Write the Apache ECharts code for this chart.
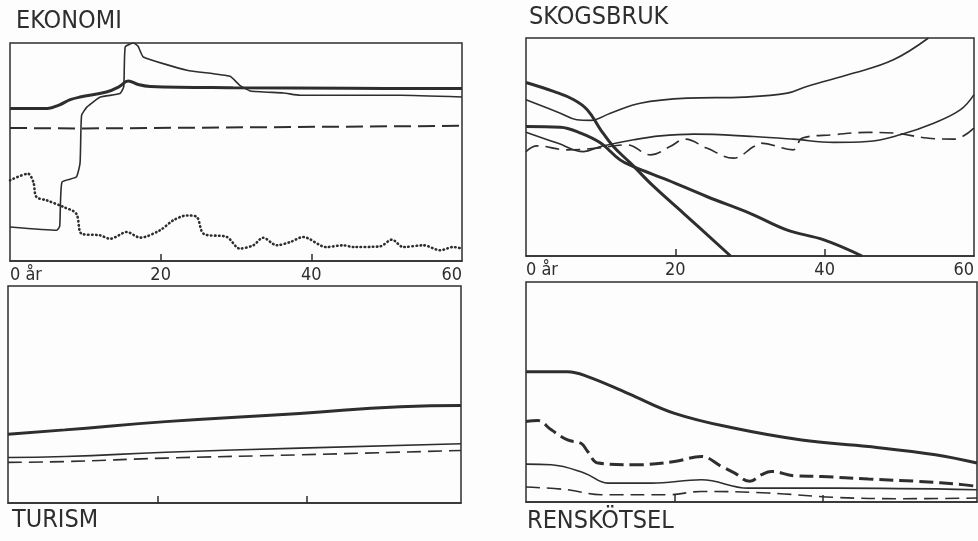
<!DOCTYPE html>
<html>
<head>
<meta charset="utf-8">
<script src="https://cdn.jsdelivr.net/npm/echarts@6/dist/echarts.min.js"></script>
<style>
html, body { margin: 0; padding: 0; background: #fdfdfd; }
#main { width: 978px; height: 541px; }
</style>
</head>
<body>
<div id="main"></div>
<script>
// x = år, y = relativ nivå (0-100)
const xTickLabels = [0, 20, 40, 60];
const xTicks = [20, 40];

// EKONOMI
const ekoThick = [[0, 69.9], [5, 70], [6.5, 71.5], [8, 74], [9.3, 75.2], [12.8, 77.5], [14.5, 80], [15.7, 82.6], [17, 81], [18.6, 80.1], [29.6, 79.5], [45, 79.2], [60, 79.1]];
const ekoThin = [[0, 15.6], [6.2, 14.1], [6.6, 16], [6.9, 36.2], [8.8, 38.5], [9.3, 45], [9.5, 66.8], [10.2, 70.6], [12, 75.2], [14.6, 76.8], [15.1, 80], [15.3, 98.2], [16.4, 100], [17, 98.5], [17.7, 93.6], [23.5, 87.5], [29.2, 84.7], [30.5, 80.6], [31.9, 78], [36.3, 77.1], [38.5, 76], [51.8, 76], [60, 75.2]];
const ekoDash = [[0, 61], [10, 60.8], [35, 61.4], [60, 62]];
const ekoDot = [[0, 37], [2.4, 40], [3.1, 36.2], [3.5, 29.4], [4.9, 27.8], [7.1, 24.8], [8.8, 21.7], [9.5, 12.5], [11.9, 11.8], [13.3, 10.2], [15.5, 13.3], [17.3, 10.7], [19.9, 14.1], [21.7, 18.7], [23.5, 20.9], [24.8, 20.2], [25.7, 12.5], [28.8, 11], [30.5, 5.7], [32.3, 7.2], [33.6, 10.7], [35.4, 7.2], [37.2, 8.7], [38.9, 11], [42, 6.4], [44.2, 7.2], [45.6, 6.4], [49.1, 6.7], [50.7, 9.8], [52.2, 6.4], [54.9, 7.2], [57.1, 4.9], [58.8, 6.4], [60, 5.7]];

// SKOGSBRUK
const skogRise = [[0, 71.7], [4.6, 65.5], [6.8, 62.5], [8.6, 62.2], [11.3, 65.5], [15.3, 70.1], [21.6, 72.4], [29.2, 72.9], [35, 74.7], [37.6, 77.8], [43.9, 83.9], [49.2, 90], [53.9, 100]];
const skogFallFast = [[0, 79.6], [3.7, 75.5], [6.4, 71.7], [8.2, 67.1], [10, 57.9], [11.7, 50.2], [14, 42.6], [17.1, 31.9], [21.1, 19.6], [27.4, 0]];
const skogFallSlow = [[0, 59.4], [4.6, 59.1], [7.3, 56.4], [10, 51.8], [12.6, 44.1], [14.4, 41], [18.9, 34.9], [24.2, 27.3], [30, 19.6], [35, 11.9], [39.9, 7.4], [45, 0]];
const skogThin = [[0, 56.8], [4.2, 51.8], [7.7, 47.9], [10, 50.2], [14.4, 53.3], [18, 55.1], [22.5, 55.9], [30.5, 54.8], [35.8, 53.6], [41.2, 52.1], [45.7, 52.5], [50.1, 55.6], [54.6, 60.9], [58.2, 67.1], [60, 74]];
const skogDash = [[0, 47.9], [1.5, 50.5], [5.5, 48.7], [9.5, 49.5], [13.5, 51], [16.7, 46.4], [19.3, 50.2], [21.3, 53.6], [24.2, 49.5], [27.8, 44.9], [30.5, 50.2], [31.4, 51.8], [35.8, 48.7], [37, 54.1], [41.2, 55.6], [45.7, 56.7], [49.2, 56.4], [53.7, 54.1], [57.3, 53.6], [60, 58.7]];

// TURISM
const turThick = [[0, 31.7], [7.6, 33.7], [21.1, 37.5], [39, 41.3], [52.5, 44.4], [60.6, 44.9]];
const turThin = [[0, 21], [7.6, 21.4], [21.1, 23.4], [39, 25.3], [60.6, 27.3]];
const turDash = [[0, 18.7], [7.6, 19.1], [21.1, 20.7], [39, 22.2], [60.6, 24.2]];

// RENSKÖTSEL
const renThick = [[0, 59.2], [5.6, 59.2], [8.3, 57], [13.7, 49.4], [20, 40.3], [28.1, 33.5], [37.1, 28.2], [46.1, 25.2], [55.1, 21.5], [60.7, 17.7]];
const renThickDash = [[0, 36.6], [1.6, 37], [3.4, 32.8], [5.6, 28.2], [7.4, 26.7], [8.3, 23], [9.7, 17.7], [14.6, 16.9], [20, 18.4], [23.6, 20.7], [26.3, 16.2], [28.1, 13.1], [30.1, 9.4], [31.7, 12.4], [33, 13.9], [36.2, 11.9], [39.8, 11.6], [46.1, 10.4], [52.8, 9.4], [58.7, 7.9], [60.7, 7.1]];
const renThin = [[0, 17.2], [3.4, 16.9], [7.9, 13.1], [11, 8.6], [16.9, 8.6], [23.6, 10.1], [29.9, 6.3], [41.6, 6.3], [60.7, 5.6]];
const renDash = [[0, 6.8], [5.6, 5.6], [10.1, 3.3], [19.1, 3.3], [23.6, 4.8], [32.6, 4.1], [41.6, 2.1], [50.6, 1.5], [60.7, 1.8]];

const ink = '#2e2e2e';
const font = 'DejaVu Sans Condensed';

let chart = echarts.init(document.getElementById('main'));

let makeX = (idx, max, labels) => ({
	type: 'value',
	gridIndex: idx,
	min: 0,
	max: max,
	splitLine: { show: false },
	axisLine: { show: true, lineStyle: { color: ink, width: 1.5 } },
	axisTick: { show: true, inside: true, length: 7, customValues: xTicks, lineStyle: { color: ink, width: 1.5 } },
	axisLabel: {
		show: labels,
		customValues: xTickLabels,
		alignMinLabel: 'left',
		alignMaxLabel: 'right',
		margin: 5,
		color: ink,
		fontFamily: font,
		fontSize: 18,
		formatter: v => v === 0 ? '0 år' : String(v)
	}
});
let makeY = idx => ({
	type: 'value', gridIndex: idx, min: 0, max: 100,
	show: false, splitLine: { show: false }
});
let line = (idx, data, width, type, smooth) => ({
	type: 'line',
	xAxisIndex: idx,
	yAxisIndex: idx,
	data: data,
	symbol: 'none',
	smooth: smooth,
	silent: true,
	lineStyle: { color: ink, width: width, type: type, cap: 'butt' }
});
let dots = [0.5, 3.5];

let option = {
	backgroundColor: '#fdfdfd',
	animation: false,
	title: [
		{ text: 'EKONOMI', left: 16, top: 9 },
		{ text: 'SKOGSBRUK', left: 529, top: 5 },
		{ text: 'TURISM', left: 12, top: 508 },
		{ text: 'RENSKÖTSEL', left: 527, top: 509 }
	].map(t => Object.assign(t, {
		padding: 0,
		textStyle: { fontFamily: font, fontSize: 25, fontWeight: 'normal', color: ink }
	})),
	grid: [
		{ left: 10, top: 43, width: 452, height: 218 },
		{ left: 526, top: 38, width: 448, height: 218 },
		{ left: 8, top: 286, width: 453, height: 217 },
		{ left: 526, top: 282, width: 451, height: 220 }
	].map(g => Object.assign(g, { show: true, borderColor: ink, borderWidth: 1.5, containLabel: false })),
	xAxis: [makeX(0, 60, true), makeX(1, 60, true), makeX(2, 60.6, false), makeX(3, 60.7, false)],
	yAxis: [makeY(0), makeY(1), makeY(2), makeY(3)],
	series: [
		line(0, ekoDash, 2, [17, 7], false),
		line(0, ekoDot, 2.6, dots, 0.3),
		line(0, ekoThin, 1.6, 'solid', 0.15),
		line(0, ekoThick, 3, 'solid', 0.4),

		line(1, skogRise, 1.6, 'solid', 0.4),
		line(1, skogFallFast, 3, 'solid', 0.4),
		line(1, skogFallSlow, 3, 'solid', 0.4),
		line(1, skogThin, 1.6, 'solid', 0.4),
		line(1, skogDash, 1.6, [14, 7], 0.4),

		line(2, turThick, 3, 'solid', 0.5),
		line(2, turThin, 1.6, 'solid', 0.5),
		line(2, turDash, 1.6, [14, 7], 0.5),

		line(3, renThick, 3, 'solid', 0.4),
		line(3, renThickDash, 3, [14, 6], 0.4),
		line(3, renThin, 1.6, 'solid', 0.4),
		line(3, renDash, 1.6, [14, 7], 0.4)
	]
};
// dotted line needs round caps
option.series[1].lineStyle.cap = 'round';
chart.setOption(option);
</script>
</body>
</html>
